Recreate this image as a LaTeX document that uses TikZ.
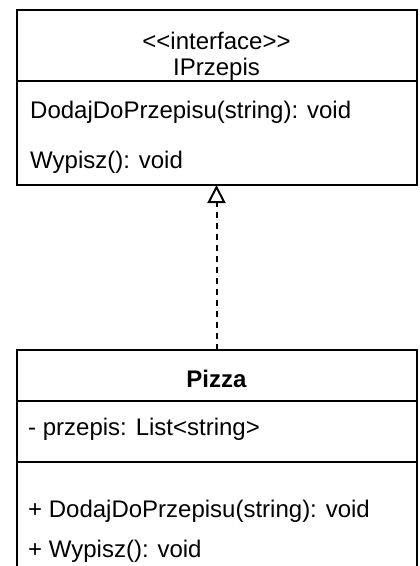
\documentclass[tikz,border=0pt]{standalone}
\usepackage{fontspec}
\setmainfont{Liberation Sans}
\usetikzlibrary{arrows.meta}
\begin{document}
\begin{tikzpicture}[x=1pt,y=-1pt,
  umlbox/.style={draw=black,line width=2pt,fill=white,inner sep=0pt,outer sep=0pt},
  divider/.style={draw=black,line width=1.5pt},
  txt/.style={font=\fontsize{24}{28}\selectfont,inner sep=0pt,anchor=base west},
  ctxt/.style={font=\fontsize{24}{28}\selectfont,inner sep=0pt,anchor=base},
  realize/.style={draw=black,line width=2pt,dash pattern=on 6pt off 5pt,
    -{Triangle[open,length=18pt,width=18pt,line width=2pt]}}]
\useasboundingbox (0,0) rectangle (420,566);
% boxes
\node[umlbox,minimum width=400pt,minimum height=175.5pt,anchor=north west] (iface) at (16.5,9.5) {};
\node[umlbox,minimum width=400pt,minimum height=240pt,anchor=north west] (pizza) at (16.5,350) {};
% dividers
\coordinate (d1l) at (16.5,81); \coordinate (d1r) at (416.5,81);
\draw[divider] (d1l) -- (d1r);
\coordinate (d2l) at (16.5,401); \coordinate (d2r) at (416.5,401);
\draw[divider] (d2l) -- (d2r);
\coordinate (d3l) at (16.5,462); \coordinate (d3r) at (416.5,462);
\draw[divider] (d3l) -- (d3r);
% texts
\node[ctxt] (st) at (216.5,49) {{<}{<}interface{>}{>}};
\node[ctxt] (nm) at (216.5,75) {IPrzepis};
\node[txt] (m1) at (30,118) {DodajDoPrzepisu(string): void};
\node[txt] (m2) at (30,168) {Wypisz(): void};
\node[ctxt,font=\fontsize{24}{28}\selectfont\bfseries] (pn) at (216.5,387) {Pizza};
\node[txt] (a1) at (28,435) {- przepis: List{<}string{>}};
\node[txt] (p1) at (28,517) {+ DodajDoPrzepisu(string): void};
\node[txt] (p2) at (28,557) {+ Wypisz(): void};
% realization
\draw[realize] (pizza.north) -- (iface.south);
\end{tikzpicture}
\end{document}
